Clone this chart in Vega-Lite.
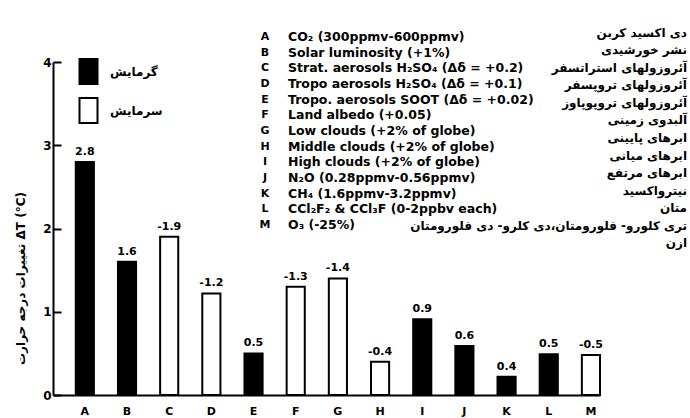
{
  "$schema": "https://vega.github.io/schema/vega-lite/v6.json",
  "autosize": {"type": "none"},
  "padding": {"left": 53, "top": 62, "right": 90, "bottom": 23},
  "width": 547,
  "height": 333,
  "background": "white",
  "config": {
    "view": {"stroke": null},
    "font": "DejaVu Sans",
    "text": {"font": "DejaVu Sans", "fontWeight": "bold", "color": "black"}
  },
  "datasets": {
    "bars": [
      {"letter": "A", "value": 2.8, "label": "2.8", "effect": "گرمایش"},
      {"letter": "B", "value": 1.6, "label": "1.6", "effect": "گرمایش"},
      {"letter": "C", "value": 1.9, "label": "-1.9", "effect": "سرمایش"},
      {"letter": "D", "value": 1.22, "label": "-1.2", "effect": "سرمایش"},
      {"letter": "E", "value": 0.5, "label": "0.5", "effect": "گرمایش"},
      {"letter": "F", "value": 1.3, "label": "-1.3", "effect": "سرمایش"},
      {"letter": "G", "value": 1.4, "label": "-1.4", "effect": "سرمایش"},
      {"letter": "H", "value": 0.4, "label": "-0.4", "effect": "سرمایش"},
      {"letter": "I", "value": 0.91, "label": "0.9", "effect": "گرمایش"},
      {"letter": "J", "value": 0.59, "label": "0.6", "effect": "گرمایش"},
      {"letter": "K", "value": 0.22, "label": "0.4", "effect": "گرمایش"},
      {"letter": "L", "value": 0.49, "label": "0.5", "effect": "گرمایش"},
      {"letter": "M", "value": 0.48, "label": "-0.5", "effect": "سرمایش"}
    ],
    "notes": [
      {"letter": "A", "en": "CO₂ (300ppmv-600ppmv)", "fa": "دی اکسید کربن"},
      {"letter": "B", "en": "Solar luminosity (+1%)", "fa": "نشر خورشیدی"},
      {"letter": "C", "en": "Strat. aerosols H₂SO₄ (Δδ = +0.2)", "fa": "آئروزولهای استراتسفر"},
      {"letter": "D", "en": "Tropo aerosols H₂SO₄ (Δδ = +0.1)", "fa": "آئروزولهای تروپسفر"},
      {"letter": "E", "en": "Tropo. aerosols SOOT (Δδ = +0.02)", "fa": "آئروزولهای تروپوپاوز"},
      {"letter": "F", "en": "Land albedo (+0.05)", "fa": "آلبدوی زمینی"},
      {"letter": "G", "en": "Low clouds (+2% of globe)", "fa": "ابرهای پایینی"},
      {"letter": "H", "en": "Middle clouds (+2% of globe)", "fa": "ابرهای میانی"},
      {"letter": "I", "en": "High clouds (+2% of globe)", "fa": "ابرهای مرتفع"},
      {"letter": "J", "en": "N₂O (0.28ppmv-0.56ppmv)", "fa": "نیترواکسید"},
      {"letter": "K", "en": "CH₄ (1.6ppmv-3.2ppmv)", "fa": "متان"},
      {"letter": "L", "en": "CCl₂F₂ & CCl₃F (0-2ppbv each)", "fa": "تری کلورو- فلورومتان،دی کلرو- دی فلورومتان"},
      {"letter": "M", "en": "O₃ (-25%)", "fa": "ازن"}
    ]
  },
  "resolve": {"scale": {"y": "independent"}},
  "layer": [
    {
      "data": {"name": "bars"},
      "layer": [
        {
          "mark": {"type": "bar", "stroke": "black", "strokeWidth": 2},
          "encoding": {
            "x": {
              "field": "letter", "type": "nominal",
              "scale": {"paddingInner": 0.57, "paddingOuter": 0.27, "align": 1},
              "axis": {
                "title": null, "labelAngle": 0, "ticks": false,
                "labelPadding": 10, "labelFontSize": 11, "labelFontWeight": "bold",
                "labelColor": "black", "domainColor": "black", "domainWidth": 2,
                "labelFont": "DejaVu Sans"
              }
            },
            "y": {
              "field": "value", "type": "quantitative",
              "scale": {"domain": [0, 4], "nice": false},
              "axis": {
                "values": [0, 1, 2, 3, 4], "format": "d", "grid": false,
                "tickSize": -8, "tickWidth": 2, "tickColor": "black",
                "domainColor": "black", "domainWidth": 2,
                "labelFontSize": 12, "labelFontWeight": "bold", "labelColor": "black",
                "labelPadding": 10, "labelFont": "DejaVu Sans",
                "title": "تغییرات درجه حرارت    ΔT (°C)",
                "titleFont": "DejaVu Sans", "titleFontSize": 12, "titleFontWeight": "bold",
                "titleColor": "black", "titleX": -33, "titleY": 216, "titleAngle": -90,
                "titleAlign": "center", "titleBaseline": "middle"
              }
            },
            "fill": {
              "field": "effect", "type": "nominal",
              "scale": {"domain": ["گرمایش", "سرمایش"], "range": ["black", "white"]},
              "legend": {
                "orient": "none", "legendX": 22, "legendY": -4, "title": null,
                "padding": 0, "symbolType": "M-0.72,-1H0.72V1H-0.72Z", "symbolSize": 625,
                "symbolStrokeColor": "black", "symbolStrokeWidth": 2,
                "labelFont": "DejaVu Sans", "labelFontSize": 12, "labelFontWeight": "bold",
                "labelColor": "black", "labelOffset": 8, "rowPadding": 6
              }
            }
          }
        },
        {
          "mark": {"type": "text", "baseline": "bottom", "dy": -5, "fontSize": 11},
          "encoding": {
            "x": {"field": "letter", "type": "nominal"},
            "y": {"field": "value", "type": "quantitative"},
            "text": {"field": "label"}
          }
        }
      ]
    },
    {
      "data": {"name": "notes"},
      "mark": {"type": "text", "align": "center", "baseline": "middle", "fontSize": 11, "x": 212},
      "encoding": {
        "y": {"field": "letter", "type": "ordinal", "scale": {"type": "point", "range": [-33, 171]}, "axis": null},
        "text": {"field": "letter"}
      }
    },
    {
      "data": {"name": "notes"},
      "mark": {"type": "text", "align": "left", "baseline": "middle", "fontSize": 12.5, "x": 235},
      "encoding": {
        "y": {"field": "letter", "type": "ordinal", "scale": {"type": "point", "range": [-33, 171]}, "axis": null},
        "text": {"field": "en"}
      }
    },
    {
      "data": {"name": "notes"},
      "mark": {"type": "text", "align": "right", "baseline": "middle", "fontSize": 12, "x": 634},
      "encoding": {
        "y": {"field": "letter", "type": "ordinal", "scale": {"type": "point", "range": [-38, 190]}, "axis": null},
        "text": {"field": "fa"}
      }
    }
  ]
}
